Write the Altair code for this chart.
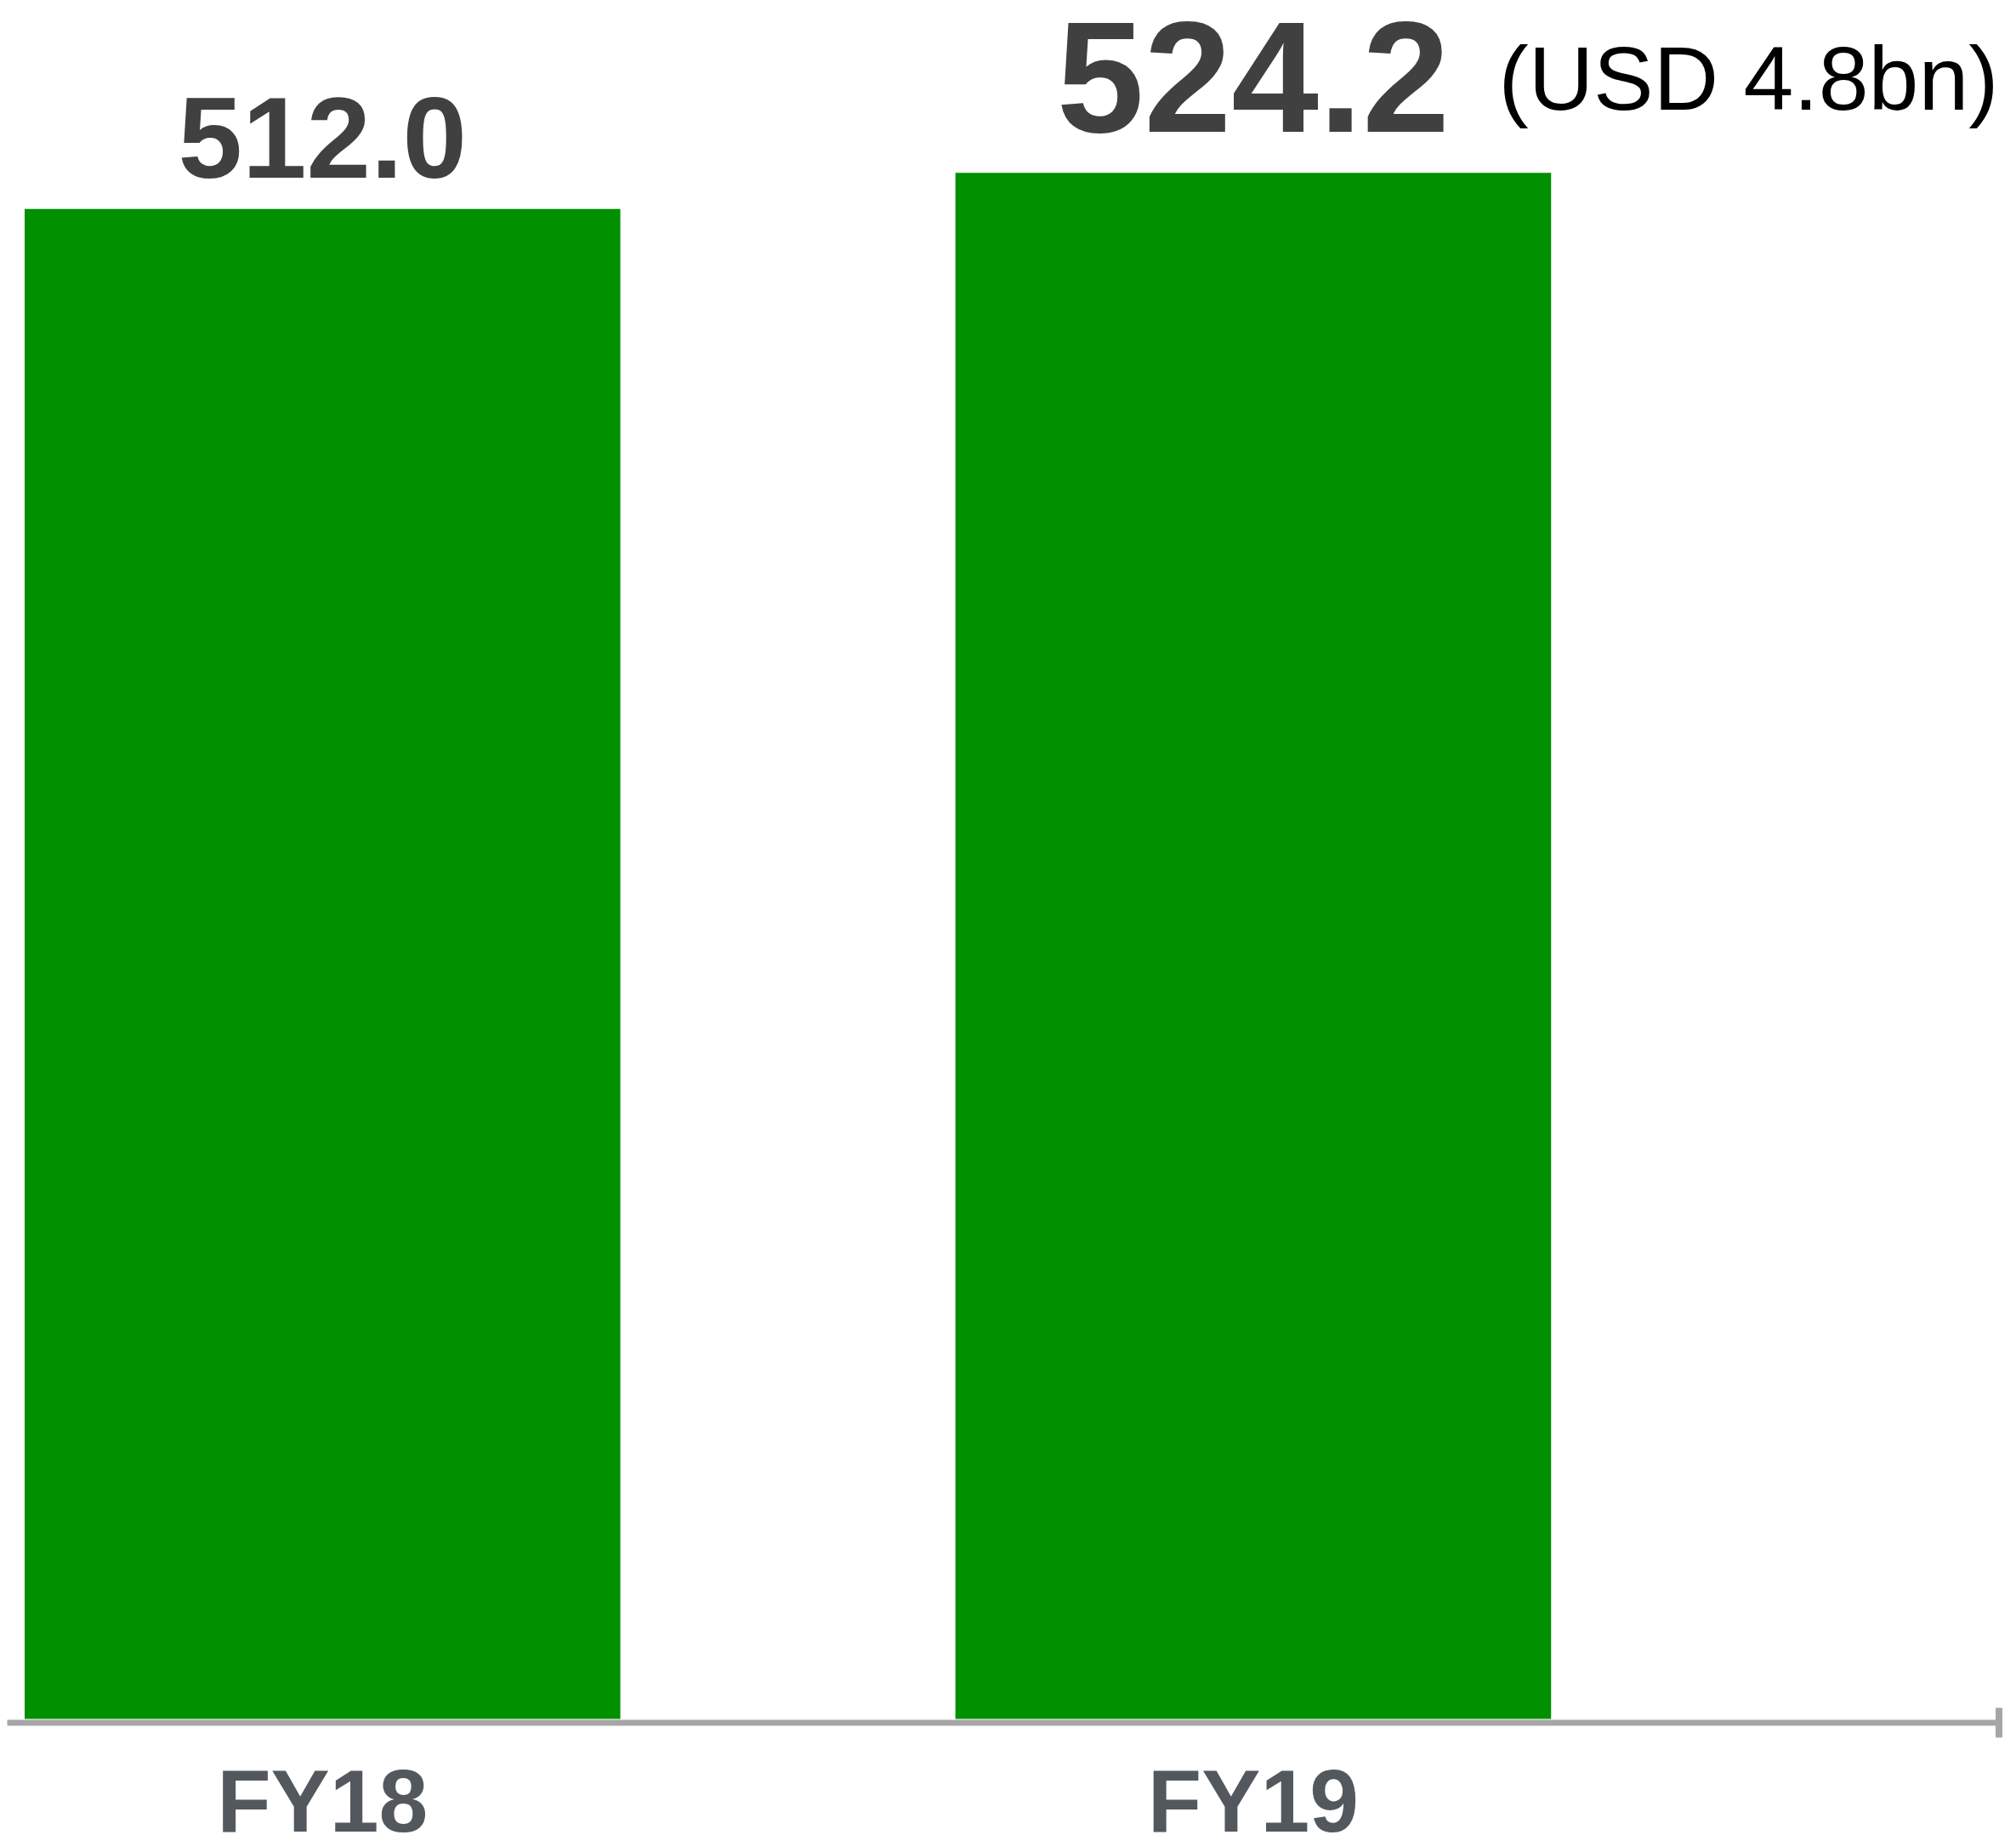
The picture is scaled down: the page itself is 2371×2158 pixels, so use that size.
import altair as alt
import pandas as pd

categories = ["FY18", "FY19"]
values = [512.0, 524.2]
notes = ["", "(USD 4.8bn)"]

df = pd.DataFrame({"cat": categories, "value": values, "note": notes})

W, H = 2347, 2015
FONT = "Liberation Sans"

x_enc = alt.X(
    "cat:N",
    sort=categories,
    scale=alt.Scale(paddingInner=0.36, paddingOuter=0.2502, align=0.0383),
    axis=alt.Axis(
        title=None,
        labelAngle=0,
        ticks=False,
        grid=False,
        domainColor="#A6A6A6",
        domainWidth=7,
        offset=4,
        labelFont=FONT,
        labelFontWeight="bold",
        labelFontSize=104,
        labelColor="#53585F",
        labelBaseline="alphabetic",
        labelPadding=128,
        labelLimit=0,
        labelOverlap=False,
    ),
)
y_enc = alt.Y("value:Q", scale=alt.Scale(domain=[0, 580], nice=False, zero=True), axis=None)

base = alt.Chart(df)

bars = base.mark_bar(color="#009000").encode(x=x_enc, y=y_enc)

t18 = (
    base.transform_filter(alt.datum.cat == "FY18")
    .mark_text(font=FONT, fontWeight="bold", fontSize=136, color="#404040",
               baseline="alphabetic", dy=-37)
    .encode(x=x_enc, y=y_enc, text=alt.Text("value:Q", format=".1f"))
)
t19 = (
    base.transform_filter(alt.datum.cat == "FY19")
    .mark_text(font=FONT, fontWeight="bold", fontSize=185, color="#404040",
               baseline="alphabetic", dy=-48)
    .encode(x=x_enc, y=y_enc, text=alt.Text("value:Q", format=".1f"))
)
note = (
    base.transform_filter("datum.note != ''")
    .mark_text(font=FONT, fontSize=106, color="#000000", align="left",
               baseline="alphabetic", dx=289, dy=-74)
    .encode(x=x_enc, y=y_enc, text="note:N")
)

end_tick = (
    alt.Chart(pd.DataFrame({"k": [0]}))
    .mark_rule(color="#A6A6A6", strokeWidth=8)
    .encode(x=alt.value(W), y=alt.value(H - 13), y2=alt.value(H + 22))
)

chart = (
    alt.layer(bars, t18, t19, note, end_tick)
    .properties(
        width=W,
        height=H,
        autosize=alt.AutoSizeParams(type="none"),
        padding={"left": 0, "top": 0, "right": 12, "bottom": 150},
    )
    .configure_view(stroke=None)
)

chart.save("out.html", embed_options={"renderer": "svg", "actions": False})
